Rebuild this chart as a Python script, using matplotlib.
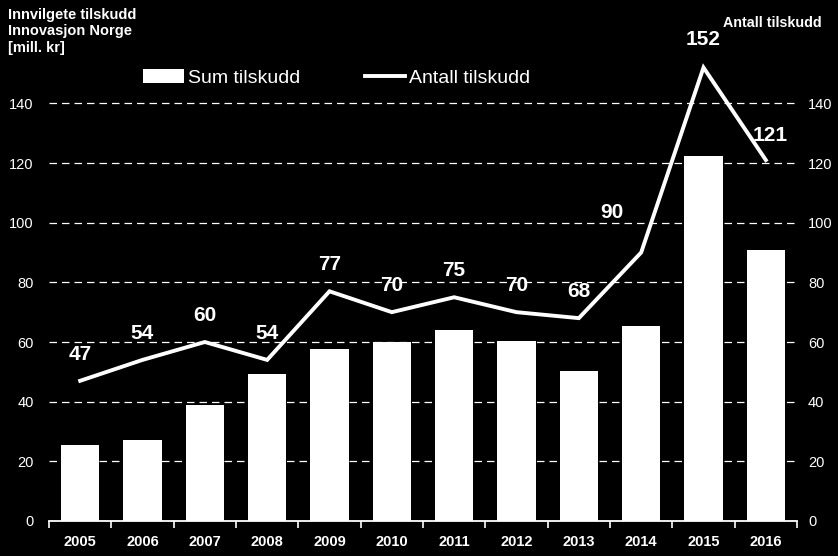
import matplotlib.pyplot as plt
from matplotlib.ticker import FixedLocator

plt.rcParams["font.family"] = ["Liberation Sans", "DejaVu Sans"]

years = ["2005", "2006", "2007", "2008", "2009", "2010",
         "2011", "2012", "2013", "2014", "2015", "2016"]
sum_tilskudd = [25.5, 27.2, 38.9, 49.3, 57.8, 59.9,
                64.0, 60.3, 50.3, 65.4, 122.3, 90.8]
antall_tilskudd = [47, 54, 60, 54, 77, 70, 75, 70, 68, 90, 152, 121]
y_ticks = [0, 20, 40, 60, 80, 100, 120, 140]

fig = plt.figure(figsize=(8.38, 5.56), dpi=100, facecolor="black")
ax = fig.add_axes([49 / 838, 35 / 556, 748 / 838, 0.8585])
ax.set_facecolor("black")

x = list(range(len(years)))
bars = ax.bar(x, sum_tilskudd, width=0.61, color="white", label="Sum tilskudd", zorder=2)
(line,) = ax.plot(x, antall_tilskudd, color="white", lw=2.8, label="Antall tilskudd",
                  zorder=3, solid_joinstyle="miter")

# label offsets in points (most straight above the point)
offsets = {9: (-21, 29), 10: (0, 20), 11: (3, 18)}
for xi, v in zip(x, antall_tilskudd):
    ax.annotate(str(v), (xi, v), xytext=offsets.get(xi, (0, 19)),
                textcoords="offset points", ha="center", va="center",
                color="white", fontsize=15, fontweight="bold")

ax.set_xlim(-0.5, len(years) - 0.5)
ax.set_ylim(0, 160)
ax.set_yticks(y_ticks)
ax.set_xticks(x)
ax.set_xticklabels(years, fontweight="bold", fontsize=10.5, color="white")
ax.xaxis.set_minor_locator(FixedLocator([i - 0.5 for i in range(len(years) + 1)]))
ax.tick_params(axis="x", which="major", length=0, pad=10)
ax.tick_params(axis="x", which="minor", length=5, width=1.2, color="white",
               direction="out")
ax.tick_params(axis="y", length=0, labelsize=10.5, labelcolor="white", pad=11)

ax2 = ax.twinx()
ax2.set_ylim(ax.get_ylim())
ax2.set_yticks(y_ticks)
ax2.tick_params(axis="y", length=0, labelsize=10.5, labelcolor="white", pad=8)

for a in (ax, ax2):
    for s in ["top", "left", "right"]:
        a.spines[s].set_visible(False)
ax.spines["bottom"].set_color("white")
ax.spines["bottom"].set_linewidth(1.3)
ax2.spines["bottom"].set_visible(False)

ax.grid(axis="y", color="white", linestyle=(0, (6, 4)), lw=0.9, zorder=1)
ax.set_axisbelow(True)

leg = ax.legend([bars, line], ["Sum tilskudd", "Antall tilskudd"], loc="center",
                bbox_to_anchor=(0.385, 0.929), ncol=2, frameon=False, fontsize=14,
                handlelength=2.1, handleheight=0.75, handletextpad=0.2,
                columnspacing=3.3)
for t in leg.get_texts():
    t.set_color("white")

fig.text(8 / 838, 1 - 8 / 556, "Innvilgete tilskudd\nInnovasjon Norge\n[mill. kr]",
         ha="left", va="top", color="white", fontsize=10.5, fontweight="bold",
         linespacing=1.22)
fig.text(822 / 838, 1 - 23 / 556, "Antall tilskudd", ha="right", va="center",
         color="white", fontsize=10.3, fontweight="bold")

fig.savefig("out.png", dpi=100, facecolor="black")
